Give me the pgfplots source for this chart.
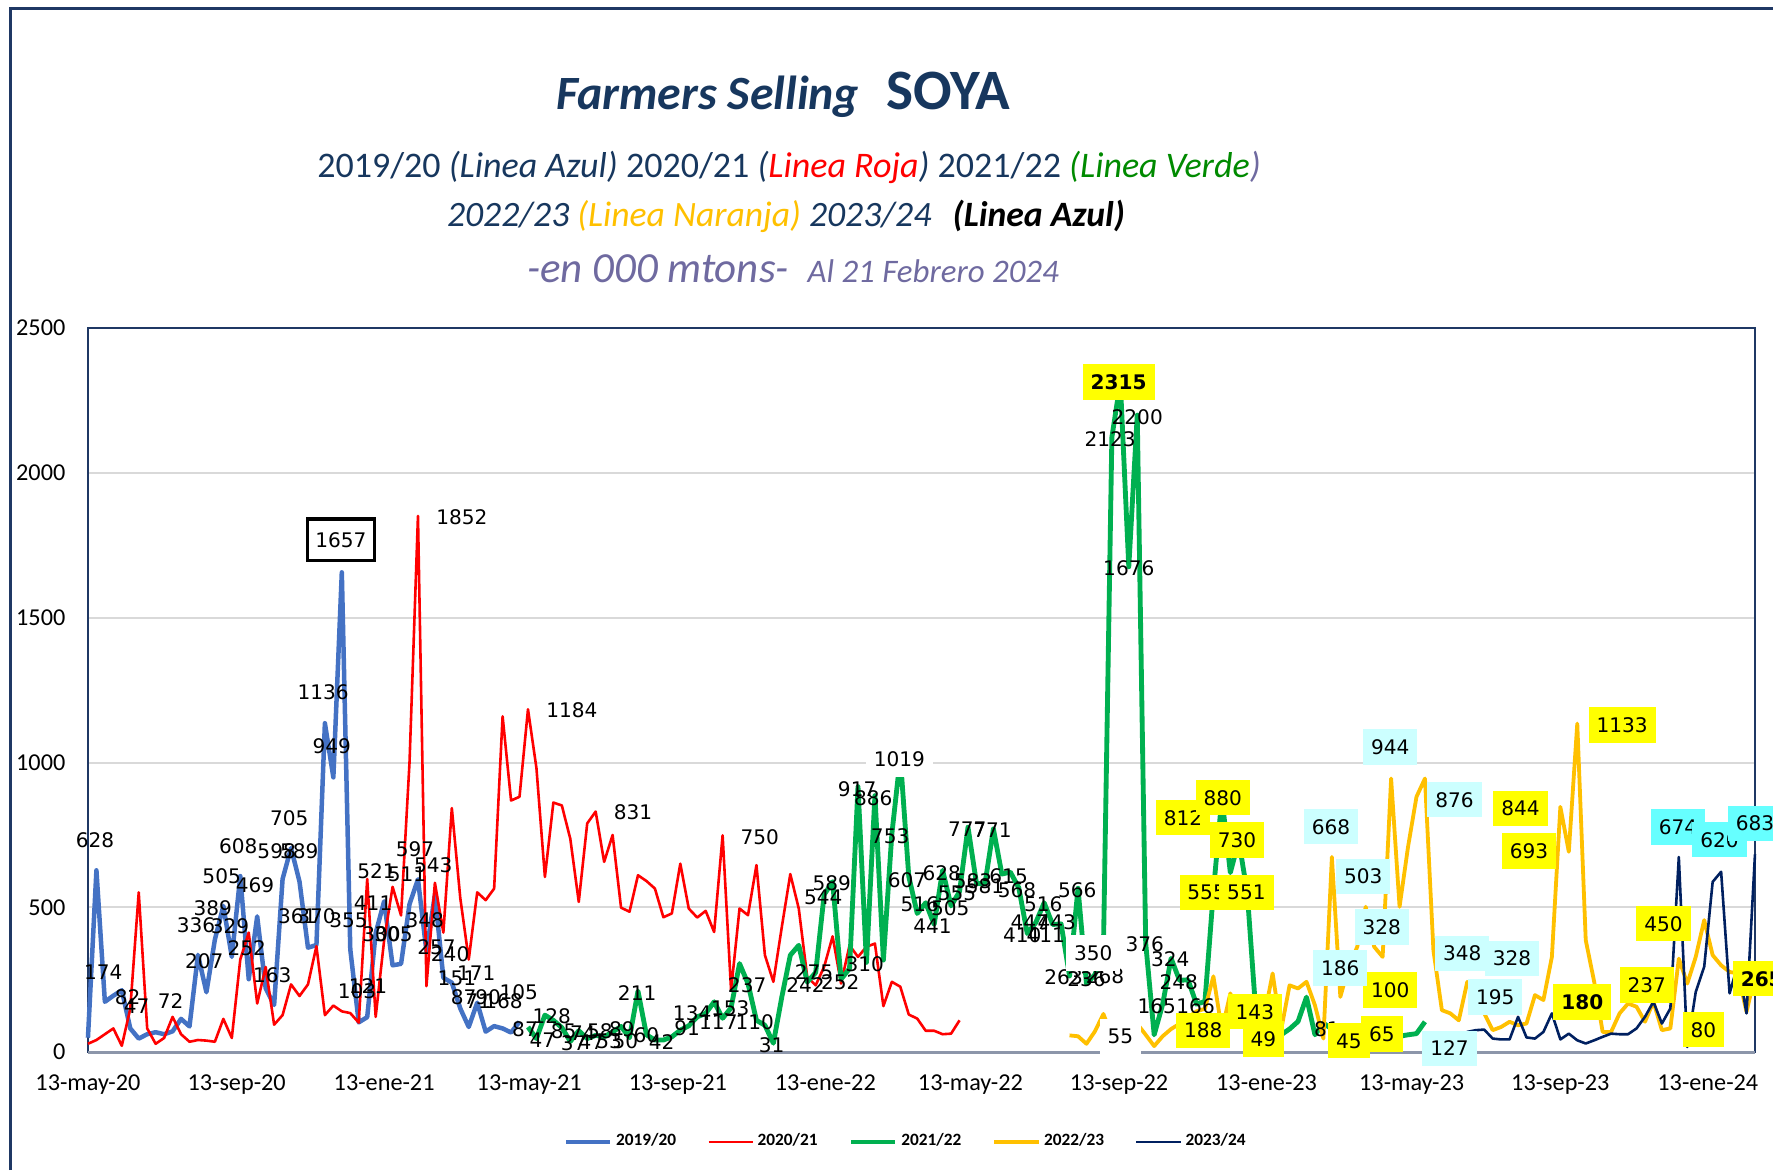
\documentclass[border=0pt]{standalone}
\usepackage{fontspec}
\setmainfont{Carlito}
\newfontfamily\lblfont{DejaVu Sans}
\usepackage{pgfplots}
\pgfplotsset{compat=1.18}

\definecolor{c1920}{HTML}{4472C4}
\definecolor{c2021}{HTML}{FF0000}
\definecolor{c2122}{HTML}{00B050}
\definecolor{c2223}{HTML}{FFC000}
\definecolor{c2324}{HTML}{002060}
\definecolor{titlenavy}{HTML}{17375E}
\definecolor{framenavy}{HTML}{1F3864}
\definecolor{subpurple}{HTML}{6F6AA0}
\definecolor{verde}{HTML}{008A00}
\definecolor{gridgray}{HTML}{D9D9D9}
\definecolor{basegray}{HTML}{8C96AA}
\definecolor{lblyellow}{HTML}{FFFF00}
\definecolor{lblpale}{HTML}{CCFFFF}
\definecolor{lblcyan}{HTML}{66FFFF}

\pgfplotsset{
  lbl/.style={draw=none, mark=none, forget plot, nodes near coords,
    point meta=explicit symbolic,
    nodes near coords style={anchor=center, font=\lblfont\fontsize{5.8}{6}\selectfont,
      text=black, inner xsep=0.8pt, inner ysep=0.8pt, text height=4.3pt, text depth=0pt}},
  boxlbl/.style={lbl, nodes near coords style={fill=#1, inner xsep=2.3pt, inner ysep=3pt}},
}

\begin{document}
\begin{tikzpicture}
\begin{axis}[
  at={(0.893cm,1.198cm)}, anchor=south west,
  width=16.924cm, height=7.35cm, scale only axis,
  xmin=0, xmax=197, ymin=0, ymax=2500,
  clip=false,
  xtick={0,17.571,35,52.143,69.714,87.143,104.286,121.857,139.286,156.429,174,191.429},
  xticklabels={13-may-20,13-sep-20,13-ene-21,13-may-21,13-sep-21,13-ene-22,13-may-22,13-sep-22,13-ene-23,13-may-23,13-sep-23,13-ene-24},
  ytick={0,500,...,2500},
  ymajorgrids, grid style={draw=gridgray, line width=0.6pt},
  major tick length=0pt,
  axis line style={draw=framenavy, line width=0.5pt},
  tick label style={font=\fontsize{7}{8}\selectfont},
  /pgf/number format/assume math mode=true,
  /pgf/number format/1000 sep={},
  xticklabel style={yshift=-3pt},
  yticklabel style={xshift=-3pt},
  legend style={at={(0.491,-0.124)}, anchor=center, draw=none, fill=none,
    legend columns=5, font=\fontsize{5}{6}\selectfont\bfseries,
    nodes={inner xsep=1pt},
    /tikz/every even column/.append style={column sep=0.28cm}},
  legend image code/.code={\draw[#1] (0cm,0cm) -- (0.45cm,0cm);},
]
\draw[basegray, line width=0.8pt] (rel axis cs:0,0) -- (rel axis cs:1,0);

% 2019/20
\addplot[c1920, line width=1.3pt, line join=round] coordinates {
(0,50)(1,628)(2,174)(3,195)(4,214)(5,82)(6,47)(7,62)(8,69)(9,62)(10,72)(11,115)(12,89)
(13,336)(14,207)(15,389)(16,505)(17,329)(18,608)(19,252)(20,469)(21,221)(22,163)(23,598)
(24,705)(25,589)(26,361)(27,370)(28,1136)(29,949)(30,1657)(31,355)(32,103)(33,121)(34,411)
(35,521)(36,300)(37,305)(38,511)(39,597)(40,348)(41,543)(42,257)(43,240)(44,151)(45,87)
(46,171)(47,71)(48,90)(49,82)(50,68)(51,105)};
\addlegendentry{2019/20}

% 2020/21
\addplot[c2021, line width=0.75pt, line join=round] coordinates {
(0,29)(1,42)(2,62)(3,82)(4,22)(5,150)(6,552)(7,82)(8,29)(9,49)(10,122)(11,62)(12,36)(13,42)
(14,40)(15,36)(16,115)(17,49)(18,320)(19,413)(20,168)(21,294)(22,95)(23,128)(24,234)(25,194)
(26,234)(27,366)(28,128)(29,161)(30,141)(31,135)(32,102)(33,598)(34,122)(35,386)(36,571)
(37,472)(38,1000)(39,1852)(40,228)(41,585)(42,413)(43,843)(44,532)(45,320)(46,552)(47,525)
(48,565)(49,1160)(50,869)(51,882)(52,1184)(53,981)(54,605)(55,862)(56,852)(57,737)(58,519)
(59,790)(60,831)(61,657)(62,750)(63,499)(64,485)(65,611)(66,591)(67,565)(68,466)(69,479)
(70,651)(71,496)(72,465)(73,488)(74,415)(75,749)(76,214)(77,496)(78,473)(79,646)(80,335)
(81,243)(82,433)(83,615)(84,496)(85,260)(86,231)(87,295)(88,400)(89,237)(90,369)(91,329)
(92,364)(93,375)(94,159)(95,243)(96,226)(97,130)(98,116)(99,74)(100,74)(101,62)(102,64)(103,110)};
\addlegendentry{2020/21}

% 2021/22
\addplot[c2122, line width=1.4pt, line join=round] coordinates {
(52,87)(53,47)(54,128)(55,110)(56,85)(57,37)(58,74)(59,47)(60,58)(61,53)(62,70)(63,89)(64,50)
(65,211)(66,60)(67,42)(68,42)(69,53)(70,76)(71,91)(72,122)(73,134)(74,174)(75,117)(76,153)
(77,306)(78,237)(79,110)(80,93)(81,31)(82,191)(83,335)(84,369)(85,242)(86,275)(87,544)(88,589)
(89,252)(90,289)(91,917)(92,310)(93,886)(94,318)(95,753)(96,1019)(97,607)(98,479)(99,516)
(100,441)(101,628)(102,505)(103,555)(104,777)(105,583)(106,581)(107,771)(108,615)(109,622)
(110,568)(111,410)(112,447)(113,516)(114,441)(115,443)(116,263)(117,566)(118,236)(119,268)
(120,350)(121,2123)(122,2315)(123,1676)(124,2200)(125,376)(126,60)(127,165)(128,324)(129,248)
(130,250)(131,166)(132,175)(133,555)(134,880)(135,620)(136,730)(137,551)(138,143)(139,49)
(140,55)(141,60)(142,80)(143,106)(144,190)(145,60)(146,100)(147,80)(148,60)(149,45)(150,50)
(151,55)(152,45)(153,65)(154,60)(155,55)(156,60)(157,64)(158,105)};
\addlegendentry{2021/22}

% 2022/23
\addplot[c2223, line width=1.1pt, line join=round] coordinates {
(116,58)(117,55)(118,29)(119,72)(120,132)(121,55)(122,50)(123,60)(124,98)(125,60)(126,21)
(127,55)(128,80)(129,98)(130,120)(131,141)(132,150)(133,262)(134,76)(135,203)(136,110)(137,140)
(138,151)(139,122)(140,272)(141,76)(142,231)(143,220)(144,243)(145,162)(146,47)(147,674)
(148,191)(149,295)(150,364)(151,502)(152,364)(153,329)(154,945)(155,502)(156,709)(157,882)
(158,945)(159,352)(160,145)(161,134)(162,110)(163,243)(164,195)(165,134)(166,76)(167,87)
(168,105)(169,93)(170,99)(171,197)(172,180)(173,329)(174,847)(175,692)(176,1135)(177,387)
(178,243)(179,70)(180,70)(181,134)(182,168)(183,157)(184,105)(185,174)(186,76)(187,82)
(188,323)(189,237)(190,329)(191,456)(192,335)(193,300)(194,277)(195,272)(196,139)(197,265)};
\addlegendentry{2022/23}

% 2023/24
\addplot[c2324, line width=0.75pt, line join=round] coordinates {
(162,50)(163,70)(164,76)(165,78)(166,47)(167,44)(168,44)(169,122)(170,51)(171,47)(172,70)
(173,134)(174,44)(175,64)(176,41)(177,30)(178,41)(179,53)(180,64)(181,62)(182,62)(183,82)
(184,122)(185,174)(186,99)(187,151)(188,674)(189,18)(190,208)(191,295)(192,588)(193,623)
(194,203)(195,306)(196,134)(197,683)};
\addlegendentry{2023/24}

% data labels
\addplot[lbl] coordinates {
(0.83,733)[628](1.81,277)[174](4.69,191)[82](5.75,158)[47](9.77,178)[72](12.77,440)[336]
(13.75,313)[207](14.74,498)[389](15.8,607)[505](16.78,436)[329](17.77,713)[608](18.76,360)[252]
(19.74,577)[469](21.79,268)[163](22.3,696)[598](23.8,810)[705](24.98,696)[589](24.74,471)[361]
(27.0,471)[370](27.8,1242)[1136](28.8,1057)[949](30.8,456)[355](31.8,211)[103](33.1,228)[121]
(33.7,515)[411](34.1,627)[521](34.7,409)[300](36.1,409)[305](37.7,614)[511](38.65,700)[597]
(39.8,455)[348](40.8,647)[543](41.2,363)[257](42.8,339)[240](43.6,257)[151](44.4,189)[87]
(45.9,273)[171](46.1,175)[71](47.3,191)[90](49.1,175)[168](50.9,207)[105]
(44.2,1849)[1852](57.2,1180)[1184](64.4,828)[831]
(51.65,79)[87](53.7,43)[47](54.8,125)[128](56.2,72)[85](57.4,32)[37](58.5,66)[74](59.5,35)[47]
(60.5,72)[58](61.6,39)[53](63.1,79)[89](63.5,39)[50](66.0,59)[60](64.9,204)[211](67.8,35)[42]
(70.8,82)[91](71.4,134)[134](74.5,105)[117](75.9,151)[153](77.9,231)[237](78.8,105)[110]
(80.8,24)[31](79.4,743)[750](84.8,231)[242](85.8,277)[275](88.9,243)[252](86.9,536)[544]
(87.9,585)[589](91.8,306)[310](90.9,910)[917](92.8,879)[886](94.8,746)[753](96.8,596)[607]
(98.3,511)[516](99.8,435)[441](100.9,619)[628](101.9,496)[505](102.7,550)[555](103.9,770)[777]
(106.9,767)[771](104.6,590)[583](106.0,575)[581](108.8,607)[615](109.8,561)[568](110.4,406)[410]
(111.3,450)[447](112.9,510)[516](113.2,406)[411](114.5,450)[443](116.9,561)[566](115.3,260)[263]
(118.0,252)[236](120.2,264)[268](120.8,2116)[2123](123.0,1672)[1676](124.0,2193)[2200]
(124.9,372)[376](126.3,161)[165](127.9,320)[324](128.9,243)[248](130.9,161)[166]
(146.4,80)[81]};
\addplot[boxlbl=white] coordinates {(95.9,1011)[1019](118.8,343)[350](122.0,54)[55]};
\addplot[boxlbl=white, nodes near coords style={draw=black, line width=0.9pt, inner xsep=2.4pt, inner ysep=3.8pt}]
  coordinates {(29.9,1770)[1657]};
\addplot[boxlbl=lblyellow] coordinates {
(129.4,810)[812](134.1,879)[880](135.8,733)[730](132.2,552)[555](136.9,552)[551](131.8,75)[188]
(137.9,140)[143](138.9,46)[49](149.0,40)[45](152.9,62)[65](153.9,214)[100]};
\addplot[boxlbl=lblpale] coordinates {
(146.9,779)[668](150.7,607)[503](148.0,291)[186](152.9,433)[328](153.9,1054)[944](161.5,872)[876]
(160.9,13)[127](162.4,341)[348](166.3,191)[195](168.3,324)[328]};
\addplot[boxlbl=lblyellow] coordinates {
(169.3,842)[844](170.3,695)[693](181.3,1129)[1133](184.2,231)[237](186.2,444)[450](190.9,78)[80]};
\addplot[boxlbl=lblyellow, nodes near coords style={font=\lblfont\bfseries\fontsize{5.8}{6}\selectfont}]
  coordinates {(121.8,2314)[2315](176.6,174)[180](197.8,254)[265]};
\addplot[boxlbl=lblcyan] coordinates {(187.9,778)[674](192.8,734)[620](197.0,790)[683]};
\end{axis}

% frame
\draw[framenavy, line width=0.8pt] (0.11,0) -- (0.11,11.79) -- (18.2,11.79);

% titles
\node[anchor=base, text=titlenavy, inner sep=0pt] at (7.95,10.773)
  {\fontsize{13.8}{16}\selectfont\bfseries\itshape Farmers Selling\hspace{0.28cm}\upshape\fontsize{16.5}{19}\selectfont SOYA};
\node[anchor=base, text=titlenavy, inner sep=0pt] at (8.01,10.083)
  {\fontsize{10.4}{13}\selectfont 2019/20 \textit{(Linea Azul)} 2020/21 \textit{(\textcolor{c2021}{Linea Roja})} 2021/22 \textit{\textcolor{verde}{(Linea Verde}\textcolor{subpurple}{)}}};
\node[anchor=base, text=titlenavy, inner sep=0pt] at (7.98,9.576)
  {\fontsize{10.3}{13}\selectfont\itshape 2022/23 \textcolor{c2223}{(Linea Naranja)} 2023/24\hspace{0.6em}\textcolor{black}{\bfseries(Linea Azul)}};
\node[anchor=base, text=subpurple, inner sep=0pt] at (8.05,9.007)
  {\itshape\fontsize{12.4}{15}\selectfont -en 000 mtons-\hspace{0.19cm}\fontsize{9.5}{12}\selectfont Al 21 Febrero 2024};

\pgfresetboundingbox
\path[use as bounding box] (0,0) rectangle (18,11.88);
\end{tikzpicture}
\end{document}
